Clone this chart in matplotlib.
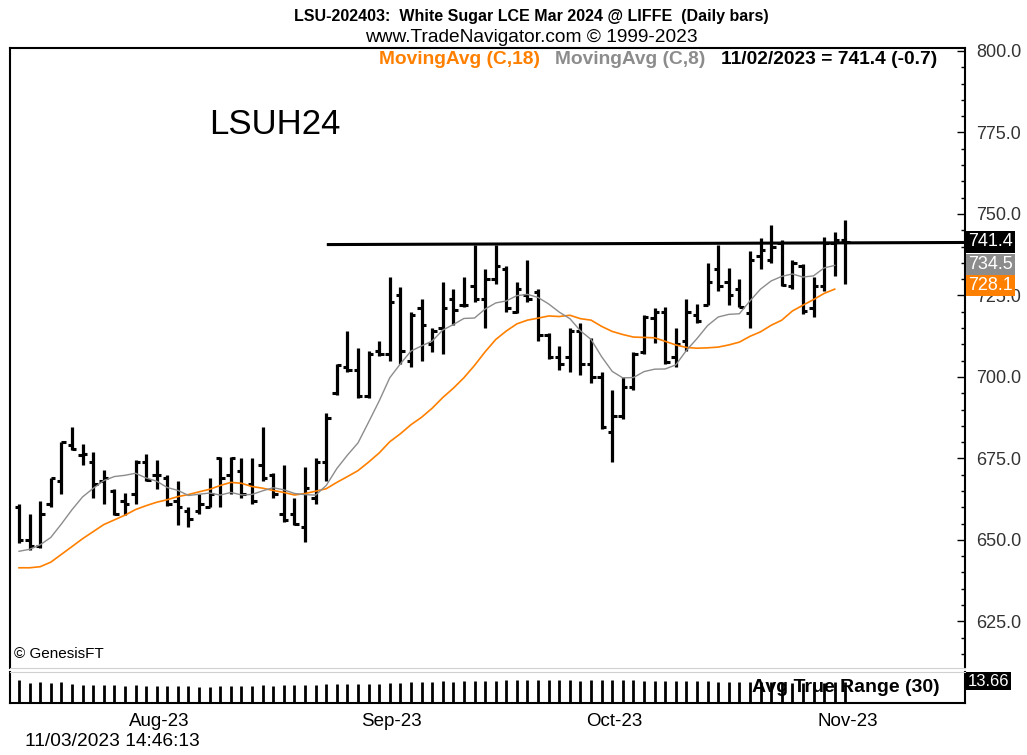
import numpy as np
import pandas as pd
import matplotlib
matplotlib.use("Agg")
import matplotlib.pyplot as plt
from matplotlib.ticker import MultipleLocator, FormatStrFormatter

# Daily OHLC (LSU Mar 2024), Jul 14 - Nov 2 2023
opens = [660, 650, 648, 661, 668, 679, 676, 674, 668, 665,
         662, 664, 674, 670, 669, 662, 659, 659, 660, 675,
         670, 671, 667, 673, 670, 658, 658, 654, 663, 674,
         695, 703, 702, 694, 708, 707, 725, 705, 721, 710,
         715, 724, 722, 728, 724, 730, 733, 720, 725, 726,
         713, 706, 706, 714, 704, 700, 683, 688, 697, 707.5,
         718, 720, 706, 711, 719, 722, 733, 729, 727, 719.5,
         737, 736, 741, 728, 734, 721, 728, 741, 742]
highs = [661, 658, 662, 669, 680, 684.5, 679.5, 677, 671.5, 665.5,
         664.5, 674.5, 676.5, 674.5, 670, 668, 660, 664, 669, 675.5,
         675.5, 675, 675, 684.5, 670.5, 673, 663, 672.5, 675, 689,
         704, 714, 709, 708, 711, 730.5, 727.5, 720, 724, 715,
         729, 727, 730.5, 740.5, 733, 740.5, 734, 729, 736, 727,
         713.5, 709.5, 715, 716.5, 712, 701.5, 696, 700, 707.5, 719,
         721, 721.5, 715, 724, 722.5, 735, 740.5, 733.5, 730, 738.5,
         742.5, 746.5, 742, 736, 734.5, 730.5, 743, 744.5, 748]
lows = [649, 647, 647.5, 660, 664, 677.5, 673, 663, 661, 657.5,
        657.5, 661, 668, 665.5, 660.5, 654.5, 654, 658, 660, 660,
        664, 663, 661, 668, 663, 655.5, 654.5, 649.5, 661, 668,
        694.5, 701.5, 693.5, 693.5, 706.5, 705, 704, 703, 705, 707.5,
        707, 716, 721.5, 723, 715, 728.5, 720, 719.5, 723, 711,
        705.5, 702, 701.5, 700.5, 698, 684, 674, 687, 696, 707,
        710.5, 704, 703, 708, 716.5, 722, 726.5, 722, 721.5, 715,
        733, 735, 728, 727, 719.3, 718.5, 726.5, 731, 728.5]
closes = [650, 648, 658, 669, 680, 678, 676.5, 667, 669, 658,
          661, 674, 668.5, 670, 661, 660, 656.5, 661, 664, 669,
          675, 664, 662, 669, 664, 656, 655, 666, 674, 687.5,
          703.5, 702, 694, 707, 707, 723, 708, 719, 716, 714,
          721, 720.5, 722, 724, 730, 734, 721, 727, 724, 713,
          706, 704, 714, 704, 700, 684.5, 688, 697, 707, 718.5,
          720, 704.5, 710, 720, 717, 729, 728, 725, 721.5, 736,
          739, 740, 728.2, 735, 720.3, 728, 741, 742.1, 741.4]
# closes before the first visible bar, only used to seed the moving averages
close_before = [648, 652, 644, 637, 635, 633, 628, 630, 632, 635,
                643, 647, 651, 647, 643, 645, 646]

month_labels = ["Aug-23", "Sep-23", "Oct-23", "Nov-23"]
month_starts = ["2023-08-01", "2023-09-01", "2023-10-02", "2023-11-01"]
y_ticks = [625, 650, 675, 700, 725, 750, 775, 800]
resist_level = 741.0
resist_from = 29.2

dates = pd.bdate_range("2023-07-14", "2023-11-02")
dates = dates[dates != pd.Timestamp("2023-08-28")]  # UK bank holiday
n = len(closes)
x = np.arange(n)

# moving averages of close
full = pd.Series(close_before + closes)
ma18 = full.rolling(18).mean().iloc[len(close_before):].to_numpy()
ma8 = full.rolling(8).mean().iloc[len(close_before):].to_numpy()

# average true range (30)
prev = np.array([close_before[-1]] + closes[:-1])
hi, lo = np.array(highs), np.array(lows)
tr = np.maximum(hi - lo, np.maximum(abs(hi - prev), abs(lo - prev)))
atr = pd.Series(tr).rolling(30, min_periods=1).mean().to_numpy()

ORANGE = "#ff8000"
GREY = "#8c8c8c"
narrow = ["Liberation Sans Narrow", "Liberation Sans", "DejaVu Sans"]
plt.rcParams["font.family"] = narrow

W, H = 1027, 755
fig = plt.figure(figsize=(W / 100, H / 100), dpi=100)


def px_rect(x0, y0, x1, y1):
    return [x0 / W, 1 - y1 / H, (x1 - x0) / W, (y1 - y0) / H]


ax = fig.add_axes(px_rect(10, 48, 965, 668))
atr_ax = fig.add_axes(px_rect(10, 672, 965, 703))

# price bars
ax.vlines(x, lows, highs, color="black", lw=2.3)
ax.hlines(opens, x - 0.42, x, color="black", lw=2.2)
ax.hlines(closes, x, x + 0.42, color="black", lw=2.2)
ax.plot(x[:-1], ma18[:-1], color=ORANGE, lw=1.2)
ax.plot(x[:-1], ma8[:-1], color=GREY, lw=1.0)
ax.plot([resist_from, 95], [resist_level - 0.4, resist_level + 0.3], color="black", lw=2.2)

ax.set_xlim(-0.85, 89.3)
ax.set_ylim(610.7, 800.9)
ax.yaxis.tick_right()
ax.set_yticks(y_ticks)
ax.yaxis.set_major_formatter(FormatStrFormatter("%.1f"))
ax.yaxis.set_minor_locator(MultipleLocator(5))
ax.tick_params(axis="y", which="major", direction="in", length=6, width=1,
               labelsize=13, labelcolor="#333333", pad=8)
ax.tick_params(axis="y", which="minor", direction="in", length=3, width=1)
ax.tick_params(axis="x", which="both", bottom=False, labelbottom=False)
for side in ["left", "top", "right"]:
    ax.spines[side].set_linewidth(1.5)
ax.spines["bottom"].set_color("#d0d0d0")

# value tags on the price scale
tags = [(closes[-1], "black"), (ma8[-1], GREY), (ma18[-1], ORANGE)]
for val, col in tags:
    ax.text(1.003, val, f"{val:.1f}", transform=ax.get_yaxis_transform(),
            ha="left", va="center", color="white", fontsize=13, clip_on=False,
            bbox=dict(boxstyle="square,pad=0.12", fc=col, ec="none"))

ax.text(0.208, 0.876, "LSUH24", transform=ax.transAxes, fontsize=25,
        family=["Liberation Sans", "DejaVu Sans"], ha="left", va="center")
ax.text(0.004, 0.012, "© GenesisFT", transform=ax.transAxes, fontsize=11,
        ha="left", va="bottom")

# ATR panel
atr_ax.vlines(x, 0, atr, color="black", lw=2)
atr_ax.set_xlim(ax.get_xlim())
atr_ax.set_ylim(0, 20.2)
atr_ax.set_yticks([])
month_pos = [dates.get_indexer([pd.Timestamp(d)])[0] + 1.2 for d in month_starts]
atr_ax.set_xticks(month_pos)
atr_ax.set_xticklabels(month_labels, fontsize=13.5)
atr_ax.tick_params(axis="x", length=0, pad=7)
atr_ax.spines["top"].set_color("#d0d0d0")
for side in ["left", "bottom", "right"]:
    atr_ax.spines[side].set_linewidth(1.5)
atr_ax.text(0.973, 0.5, "Avg True Range (30)", transform=atr_ax.transAxes,
            ha="right", va="center", fontsize=14, fontweight="bold")
atr_ax.text(1.003, 0.7, f"{atr[-1]:.2f}", transform=atr_ax.transAxes,
            ha="left", va="center", color="white", fontsize=12, clip_on=False,
            bbox=dict(boxstyle="square,pad=0.1", fc="black", ec="none"))

# header
fig.text(531 / W, 1 - 16 / H,
         "LSU-202403:  White Sugar LCE Mar 2024 @ LIFFE  (Daily bars)",
         ha="center", va="center", fontsize=11.5, fontweight="bold")
fig.text(531 / W, 1 - 38 / H, "www.TradeNavigator.com © 1999-2023",
         ha="center", va="center", fontsize=13.8)

chg = closes[-1] - closes[-2]
parts = [("MovingAvg (C,18)", ORANGE), ("MovingAvg (C,8)", GREY),
         (f"{dates[-1]:%m/%d/%Y} = {closes[-1]:.1f} ({chg:.1f})", "black")]
renderer = fig.canvas.get_renderer()
x_right = 937
for txt, col in reversed(parts):
    t = fig.text(x_right / W, 1 - 60 / H, txt, ha="right", va="center",
                 color=col, fontsize=13.8, fontweight="bold")
    x_right = t.get_window_extent(renderer).x0 - 15

fig.text(25 / W, 1 - 741 / H, "11/03/2023 14:46:13", ha="left", va="center",
         fontsize=13.8)

fig.savefig("out.png", dpi=100)
